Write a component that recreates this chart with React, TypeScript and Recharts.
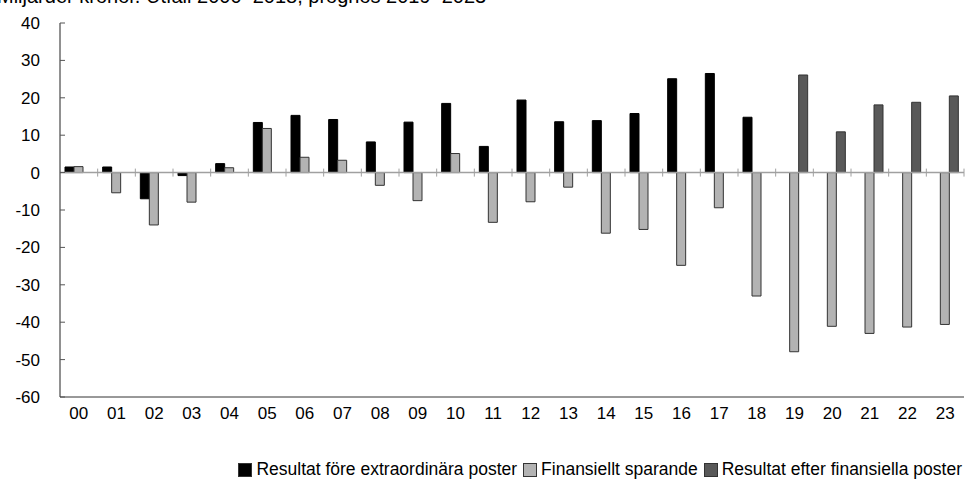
import { BarChart, Bar, XAxis, YAxis, ReferenceLine, Legend } from "recharts";

const years = ["00", "01", "02", "03", "04", "05", "06", "07", "08", "09", "10", "11",
  "12", "13", "14", "15", "16", "17", "18", "19", "20", "21", "22", "23"];

// Resultat före extraordinära poster (utfall t.o.m. 18)
const resultatFore = [1.5, 1.5, -7, -0.8, 2.4, 13.4, 15.3, 14.2, 8.2, 13.5, 18.5, 7.0,
  19.4, 13.6, 13.9, 15.8, 25.1, 26.5, 14.8, null, null, null, null, null];

const finansielltSparande = [1.6, -5.4, -14, -7.9, 1.3, 11.8, 4.1, 3.3, -3.4, -7.5, 5.1, -13.3,
  -7.8, -3.9, -16.2, -15.2, -24.8, -9.4, -33, -47.9, -41.1, -43, -41.3, -40.6];

// Resultat efter finansiella poster (prognos 19-23)
const resultatEfter = [null, null, null, null, null, null, null, null, null, null, null, null,
  null, null, null, null, null, null, null, 26.1, 10.9, 18.1, 18.8, 20.5];

const yTicks = [-60, -50, -40, -30, -20, -10, 0, 10, 20, 30, 40];

const data = years.map((y, i) => ({
  year: y,
  fore: resultatFore[i],
  sparande: finansielltSparande[i],
  efter: resultatEfter[i],
}));

const FONT = "'Liberation Sans', Arial, sans-serif";

const legendItems = [
  { label: "Resultat före extraordinära poster", fill: "#000000" },
  { label: "Finansiellt sparande", fill: "#b3b3b3" },
  { label: "Resultat efter finansiella poster", fill: "#595959" },
];

const LegendBox = () => (
  <div style={{ display: "flex", justifyContent: "flex-end", paddingRight: 4, paddingTop: 32, fontFamily: FONT, fontSize: 17.5, color: "#000" }}>
    {legendItems.map((it) => (
      <div key={it.label} style={{ display: "flex", alignItems: "center", marginLeft: 6 }}>
        <span style={{ display: "inline-block", width: 12, height: 12, background: it.fill, border: "1px solid #333", marginRight: 4 }} />
        <span>{it.label}</span>
      </div>
    ))}
  </div>
);

// zero line with small tick marks at category boundaries
const ZeroLine = (props: any) => {
  const { x1, x2, y1 } = props;
  const n = years.length;
  const step = (x2 - x1) / n;
  const marks = [];
  for (let i = 1; i <= n; i++) {
    const x = x1 + i * step;
    marks.push(<line key={i} x1={x} x2={x} y1={y1 - 4} y2={y1 + 4} stroke="#a0a0a0" strokeWidth={1} />);
  }
  return (
    <g>
      <line x1={x1} x2={x2} y1={y1} y2={y1} stroke="#a0a0a0" strokeWidth={1.5} />
      {marks}
    </g>
  );
};

export default function App() {
  return (
    <div style={{ position: "absolute", left: 0, top: 0, width: 966, height: 482, overflow: "hidden", background: "#fff" }}>
      <div style={{ position: "absolute", left: -3, top: -14, lineHeight: "20px", fontSize: 20, fontFamily: FONT, whiteSpace: "nowrap", color: "#000" }}>
        Miljarder kronor. Utfall 2000–2018, prognos 2019–2023
      </div>
      <BarChart width={966} height={482} data={data} margin={{ top: 23, right: 2, left: 0, bottom: 0 }} barGap={0} barSize={9}>
        <XAxis dataKey="year" height={30} tickLine={false} tickMargin={4} axisLine={{ stroke: "#333" }}
          tick={{ fill: "#000", fontSize: 17, fontFamily: FONT }} interval={0} />
        <XAxis xAxisId="top" dataKey="year" orientation="top" height={0} tick={false} tickLine={false} axisLine={{ stroke: "#555" }} />
        <YAxis domain={[-60, 40]} ticks={yTicks} width={60} tickSize={-5} tickMargin={25} interval={0}
          axisLine={{ stroke: "#222" }} tickLine={{ stroke: "#555" }}
          tick={{ fill: "#000", fontSize: 17, fontFamily: FONT }} />
        <YAxis yAxisId="r" orientation="right" width={0} tick={false} tickLine={false} axisLine={{ stroke: "#555" }} />
        <Bar dataKey="fore" name="Resultat före extraordinära poster" fill="#000000" stroke="#000" strokeWidth={1} isAnimationActive={false} />
        <Bar dataKey="sparande" name="Finansiellt sparande" fill="#b3b3b3" stroke="#333" strokeWidth={1} isAnimationActive={false} />
        <Bar dataKey="efter" name="Resultat efter finansiella poster" fill="#595959" stroke="#333" strokeWidth={1} isAnimationActive={false} />
        <ReferenceLine y={0} shape={ZeroLine} />
        <Legend height={55} verticalAlign="bottom" content={<LegendBox />} wrapperStyle={{ left: 0, width: 966 }} />
      </BarChart>
    </div>
  );
}
